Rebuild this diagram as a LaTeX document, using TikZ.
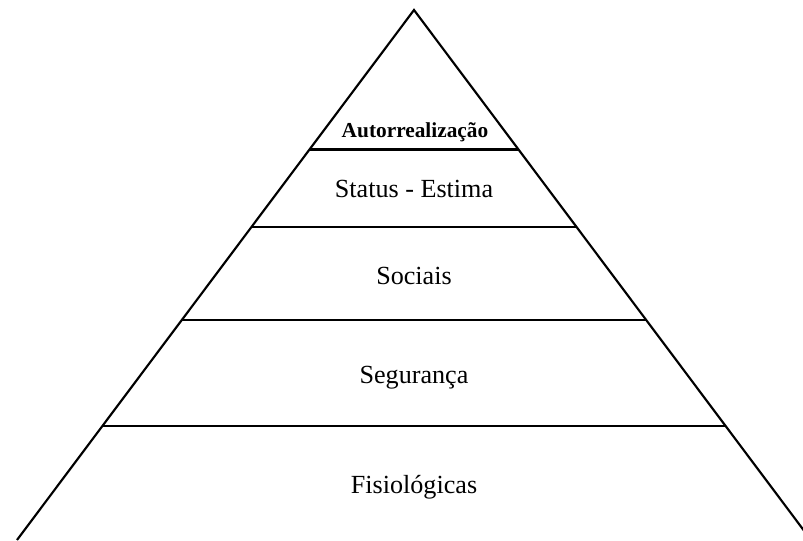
\documentclass[tikz,border=0pt]{standalone}
\usepackage{fontspec}
\setmainfont{Liberation Serif}
\usetikzlibrary{calc}
\begin{document}
\begin{tikzpicture}[x=0.75pt, y=-0.75pt, line width=1.6pt,
    nivel/.style={font=\fontsize{19.6}{22}\selectfont, anchor=base}]
    \useasboundingbox (0,0) rectangle (803,540);
    %--- PIRAMIDE ---
    \coordinate (topo) at (414,10);
    \coordinate (baseE) at (17,540);
    \coordinate (baseD) at (811,540);
    \draw[line join=miter] (baseE) -- (topo) -- (baseD);
    %--- DIVISOES ---
    \foreach \y in {149.5,227,320,426}{
      \pgfmathsetmacro{\t}{(\y-10)/530}
      \draw ($(topo)!\t!(baseE)$) -- ($(topo)!\t!(baseD)$);
    }
    %--- NIVEIS ---
    \node[nivel, font=\bfseries\fontsize{16}{18}\selectfont] (autorrealizacao) at (415,137) {Autorrealização};
    \node[nivel] (estima) at (414,197) {Status - Estima};
    \node[nivel] (sociais) at (414,284) {Sociais};
    \node[nivel] (seguranca) at (414,383) {Segurança};
    \node[nivel] (fisiologicas) at (414,493) {Fisiológicas};
  \end{tikzpicture}
\end{document}
